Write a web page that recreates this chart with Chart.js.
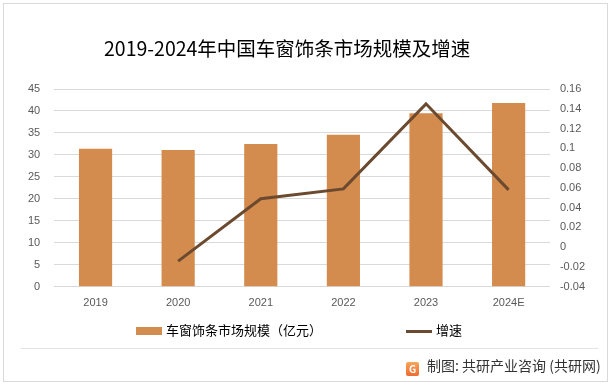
<!DOCTYPE html>
<html>
<head>
<meta charset="utf-8">
<script src="https://cdn.jsdelivr.net/npm/chart.js@4.4.1/dist/chart.umd.min.js"></script>
<style>
    html, body { margin: 0; padding: 0; background: #fff; }
    #wrap { position: relative; width: 613px; height: 387px; font-family: "Noto Sans CJK SC", "Noto Sans", sans-serif; }
    canvas { position: absolute; left: 0; top: 0; }
    #frame { position: absolute; left: 3px; top: 3px; width: 605px; height: 379px; border: 1px solid #d9d9d9; box-sizing: border-box; }
    #title { position: absolute; left: 104px; top: 34px; font-size: 19.5px; line-height: 28px; color: #000; white-space: nowrap; }
    #legend { position: absolute; top: 320px; left: 0; width: 613px; height: 20px; font-size: 13px; color: #000; }
    .lg-item { position: absolute; top: 0; line-height: 20px; white-space: nowrap; }
    .lg-mark { display: inline-block; width: 26px; vertical-align: middle; margin-right: 4px; }
    #sep { position: absolute; left: 21px; top: 348px; width: 577px; height: 1px; background: #e3e3e3; }
    #source { position: absolute; left: 406px; top: 355px; font-size: 14px; color: #333; line-height: 20px; white-space: nowrap; }
    #logo { display: inline-block; width: 13px; height: 14px; border-radius: 2px; background: linear-gradient(#f7a75a, #ee6a2e); color: #fff; font-size: 10px; font-weight: bold; text-align: center; line-height: 14px; vertical-align: -2px; margin-right: 8px; }
</style>
</head>
<body>
<div id="wrap">
    <canvas id="chart-market" width="613" height="387"></canvas>
    <div id="frame"></div>
    <div id="title"></div>
    <div id="legend"></div>
    <div id="sep"></div>
    <div id="source"><span id="logo">G</span>制图: 共研产业咨询 (共研网)</div>
</div>
<script>
var titleText = '2019-2024年中国车窗饰条市场规模及增速';
var years = ['2019', '2020', '2021', '2022', '2023', '2024E'];
var marketSize = [31.4, 31.1, 32.5, 34.6, 39.5, 41.8];
var growthRate = [null, -0.014, 0.049, 0.059, 0.145, 0.058];
var sizeLabel = '车窗饰条市场规模（亿元）';
var rateLabel = '增速';

(function() {
    var barColor = '#d38b4e';
    var lineColor = '#6b4a2f';

    function buildLegend(chart) {
        var box = document.getElementById('legend');
        var lefts = [136, 406];
        chart.data.datasets.slice().reverse().forEach(function(ds, i) {
            var item = document.createElement('span');
            item.className = 'lg-item';
            item.style.left = lefts[i] + 'px';
            var mark = document.createElement('span');
            mark.className = 'lg-mark';
            if (ds.type === 'bar') {
                mark.style.height = '8px';
                mark.style.background = ds.backgroundColor;
            } else {
                mark.style.height = '3px';
                mark.style.background = ds.borderColor;
            }
            item.appendChild(mark);
            item.appendChild(document.createTextNode(ds.label));
            box.appendChild(item);
        });
    }

    document.getElementById('title').textContent = titleText;

    var el = document.getElementById('chart-market');
    var chart = new Chart(el.getContext('2d'), {
        data: {
            labels: years,
            datasets: [
                {
                    type: 'line',
                    label: rateLabel,
                    data: growthRate,
                    yAxisID: 'y1',
                    borderColor: lineColor,
                    backgroundColor: lineColor,
                    borderWidth: 3,
                    pointRadius: 0,
                    tension: 0,
                    order: 0
                },
                {
                    type: 'bar',
                    label: sizeLabel,
                    data: marketSize,
                    yAxisID: 'y',
                    backgroundColor: barColor,
                    barPercentage: 0.55,
                    categoryPercentage: 0.73,
                    order: 1
                }
            ]
        },
        options: {
            responsive: false,
            animation: false,
            layout: { padding: { left: 14, right: 18, top: 89, bottom: 67 } },
            plugins: {
                tooltip: { enabled: false },
                title: { display: false },
                legend: { display: false }
            },
            scales: {
                x: {
                    grid: { display: false, drawTicks: false },
                    border: { display: false },
                    ticks: { color: '#595959', font: { size: 11 }, padding: 10 }
                },
                y: {
                    position: 'left',
                    min: 0,
                    max: 45,
                    ticks: { stepSize: 5, color: '#595959', font: { size: 11 }, padding: 14, autoSkip: false },
                    grid: { color: '#d9d9d9', drawTicks: false },
                    border: { display: false }
                },
                y1: {
                    position: 'right',
                    min: -0.04,
                    max: 0.16,
                    ticks: {
                        stepSize: 0.02,
                        color: '#595959',
                        font: { size: 11 },
                        padding: 10,
                        autoSkip: false,
                        callback: function(v) { return String(+v.toFixed(2)); }
                    },
                    grid: { display: false, drawTicks: false },
                    border: { display: false }
                }
            }
        }
    });

    buildLegend(chart);
})();
</script>
</body>
</html>
